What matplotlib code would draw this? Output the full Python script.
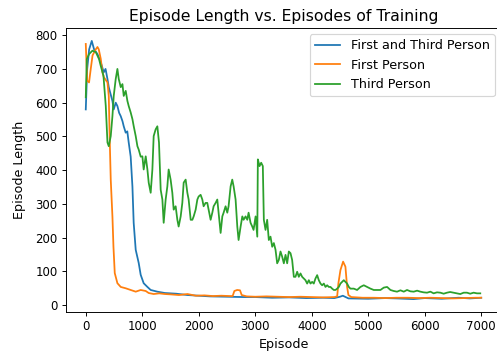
#%%
import matplotlib
matplotlib.use('Agg')
import matplotlib.pyplot as plt

#%%
# values (episode, mean episode length)
both_ep = [0, 25, 60, 106, 147, 207, 265, 318, 350, 384, 407, 440, 472, 495, 530, 560,
           590, 619, 650, 672, 707, 735, 760, 795, 826, 848, 884, 937, 972, 1025, 1091,
           1149, 1267, 1400, 1600, 1800, 2000, 2200, 2500, 2800, 3000, 3300, 3600, 3900,
           4200, 4400, 4500, 4550, 4650, 5000, 5300, 5500, 5800, 6000, 6300, 6600, 6800,
           7000]
both_len = [580, 700, 758, 783, 758, 744, 720, 690, 700, 670, 646, 625, 605, 580, 600, 590,
            570, 560, 545, 530, 511, 515, 482, 440, 351, 244, 164, 125, 90, 65, 54,
            45, 40, 36, 34, 30, 28, 26, 25, 24, 24, 22, 23, 21,
            22, 21, 25, 28, 20, 19, 21, 20, 18, 21, 19, 22, 20,
            22]

first_ep = [0, 25, 58, 88, 120, 177, 207, 230, 265, 295, 318, 384, 407, 424, 442, 472,
            490, 513, 560, 619, 707, 795, 884, 972, 1061, 1114, 1202, 1300, 1400, 1500,
            1650, 1800, 1950, 2100, 2250, 2400, 2550, 2600, 2630, 2680, 2730, 2760, 2850,
            3000, 3200, 3400, 3600, 3800, 4000, 4200, 4400, 4450, 4472, 4508, 4555, 4596,
            4626, 4649, 4700, 4900, 5100, 5300, 5500, 5700, 5900, 6100, 6300, 6500, 6700,
            6900, 7000]
first_len = [774, 665, 660, 700, 740, 758, 765, 758, 730, 690, 676, 660, 620, 490, 372, 262,
             173, 95, 65, 54, 50, 45, 40, 45, 42, 36, 33, 35, 33, 32,
             30, 33, 28, 29, 27, 28, 27, 27, 42, 45, 44, 30, 26,
             25, 26, 25, 24, 25, 24, 23, 24, 26, 65, 104, 129, 114,
             54, 30, 24, 22, 22, 21, 22, 22, 21, 22, 21, 20, 21,
             22, 22]

third_ep = [0, 18, 58, 118, 177, 235, 265, 313, 354, 384, 407, 442, 472, 495, 530, 560,
            584, 619, 649, 672, 707, 737, 760, 795, 826, 849, 884, 914, 937, 972,
            1002, 1025, 1061, 1091, 1114, 1149, 1179, 1202, 1237, 1267, 1296, 1326, 1356,
            1379, 1414, 1444, 1467, 1502, 1532, 1556, 1591, 1621, 1644, 1680, 1709, 1733,
            1768, 1798, 1821, 1857, 1887, 1910, 1945, 1975, 1998, 2033, 2063, 2086, 2121,
            2151, 2174, 2210, 2240, 2263, 2298, 2328, 2351, 2387, 2417, 2440, 2475, 2505,
            2528, 2564, 2593, 2617, 2652, 2682, 2705, 2741, 2771, 2794, 2829, 2859, 2882,
            2917, 2947, 2970, 3006, 3036, 3046, 3076, 3105, 3134, 3152, 3182, 3211, 3240,
            3270, 3300, 3329, 3359, 3388, 3417, 3447, 3476, 3506, 3536, 3565, 3594, 3624,
            3653, 3683, 3712, 3742, 3771, 3801, 3830, 3859, 3889, 3919, 3948, 3978, 4007,
            4036, 4066, 4096, 4125, 4155, 4184, 4214, 4243, 4273, 4302, 4332, 4361, 4391,
            4420, 4450, 4479, 4508, 4567, 4597, 4626, 4656, 4685, 4744, 4803, 4862, 4921,
            4980, 5039, 5098, 5157, 5216, 5275, 5334, 5393, 5450, 5510, 5570, 5629, 5687,
            5745, 5805, 5865, 5923, 5980, 6041, 6100, 6158, 6217, 6276, 6335, 6394, 6450,
            6512, 6570, 6629, 6690, 6747, 6805, 6865, 6925, 6983]
third_len = [616, 729, 744, 754, 750, 729, 709, 680, 590, 482, 471, 501, 560, 620, 670, 700,
             670, 646, 655, 620, 635, 605, 590, 571, 551, 530, 501, 471, 461, 440,
             441, 402, 441, 402, 363, 333, 402, 501, 521, 530, 482, 342, 313,
             244, 313, 352, 402, 372, 333, 283, 293, 253, 233, 263, 303, 363,
             372, 333, 313, 253, 253, 263, 283, 313, 322, 327, 313, 293, 303,
             303, 283, 253, 274, 293, 303, 313, 274, 214, 263, 274, 293, 274,
             293, 352, 372, 352, 313, 233, 193, 233, 263, 253, 263, 253, 274,
             244, 233, 223, 263, 203, 432, 412, 422, 412, 253, 223, 253, 193,
             203, 173, 184, 164, 124, 134, 159, 144, 124, 149, 124, 159, 154,
             134, 84, 84, 99, 84, 94, 84, 79, 74, 64, 74, 64, 69,
             64, 79, 89, 74, 64, 59, 64, 54, 59, 54, 54, 49, 45,
             45, 49, 54, 64, 74, 69, 64, 54, 49, 49, 45, 54, 59,
             54, 49, 45, 45, 45, 52, 54, 45, 42, 40, 44, 40, 45,
             41, 40, 43, 40, 38, 37, 40, 35, 38, 37, 34, 37, 39,
             37, 35, 33, 37, 37, 34, 37, 35, 35]

#%%
fig = plt.figure(figsize=(498/85, 353/85), dpi=85)
ax = fig.add_axes([66/498, 41/353, 435/498, 284/353])
ax.plot(both_ep, both_len, label='First and Third Person')
ax.plot(first_ep, first_len, label='First Person')
ax.plot(third_ep, third_len, label='Third Person')
ax.set_xlabel('Episode', fontsize=10.8)
ax.set_ylabel('Episode Length', fontsize=10.8, labelpad=8)
ax.set_title('Episode Length vs. Episodes of Training', fontsize=13.2)
ax.legend(loc='upper right', fontsize=10.8)
fig.savefig('out.png', dpi=85)
